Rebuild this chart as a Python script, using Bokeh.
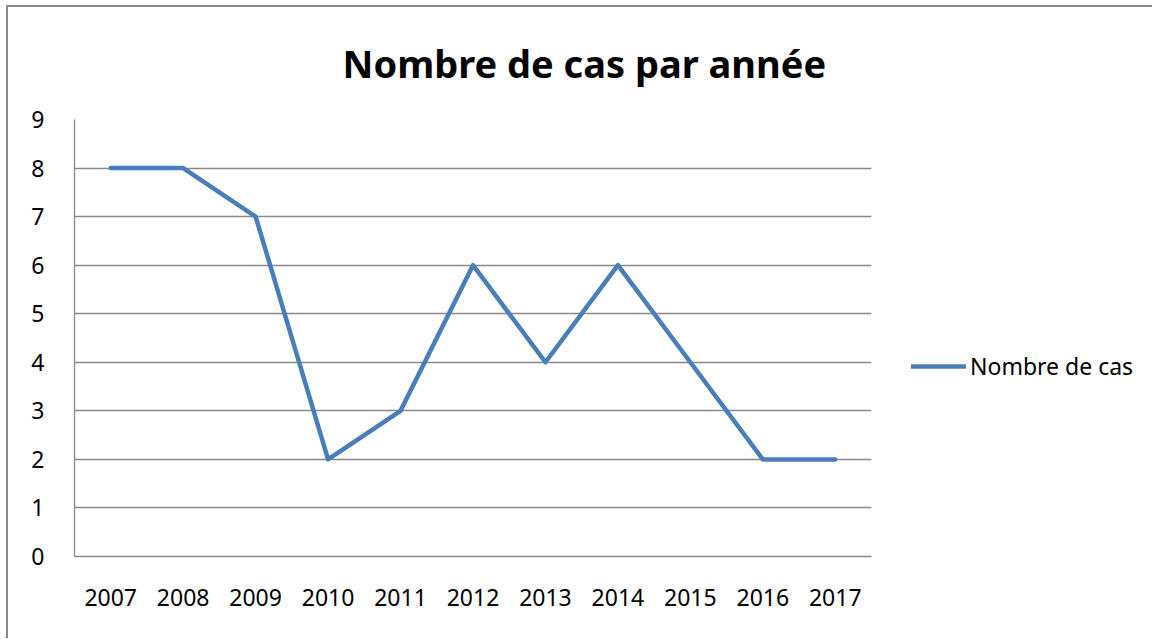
from bokeh.plotting import figure
from bokeh.models import Range1d, FactorRange, Legend, LegendItem, Title, SingleIntervalTicker
from bokeh.embed import file_html
from bokeh.resources import INLINE

title_text = "Nombre de cas par année"
series_name = "Nombre de cas"
years = ["2007", "2008", "2009", "2010", "2011", "2012", "2013", "2014", "2015", "2016", "2017"]
cases = [8, 8, 7, 2, 3, 6, 4, 6, 4, 2, 2]

FONT = "Noto Sans"
GRID = "#898989"

p = figure(
    frame_width=797, frame_height=437,
    x_range=FactorRange(*years, range_padding=0),
    y_range=Range1d(0, 9),
    output_backend="svg", toolbar_location=None,
    min_border_left=66, min_border_right=0, min_border_top=111, min_border_bottom=82,
    styles={"border-left": "2px solid #898989", "border-top": "2px solid #898989",
            "margin-left": "6px", "margin-top": "5px"},
)
p.outline_line_color = None
p.background_fill_color = "white"
p.border_fill_color = "white"

r = p.line(years, cases, line_color="#4A7EBB", line_width=4.5, line_cap="round", line_join="round")

# axes
p.yaxis.ticker = SingleIntervalTicker(interval=1)
for ax in (p.xaxis[0], p.yaxis[0]):
    ax.axis_line_color = GRID
    ax.axis_line_width = 1.3
    ax.major_tick_line_color = None
    ax.minor_tick_line_color = None
    ax.major_label_text_font = FONT
    ax.major_label_text_font_size = "23px"
    ax.major_label_text_color = "black"
p.yaxis.major_label_standoff = 24
p.xaxis.major_label_standoff = 26

p.xgrid.grid_line_color = None
p.ygrid.grid_line_color = GRID
p.ygrid.grid_line_width = 1.3
p.ygrid.grid_line_alpha = 1.0

p.title = Title(text=title_text, align="left", offset=268, vertical_align="top", standoff=58,
                text_font=FONT, text_font_style="bold", text_font_size="38px", text_color="black")

legend = Legend(items=[LegendItem(label=series_name, renderers=[r])],
                location=(40, 174), orientation="vertical",
                glyph_width=55, glyph_height=22, label_standoff=4,
                label_text_font=FONT, label_text_font_size="23px", label_text_color="black",
                padding=0, margin=0, border_line_color=None, background_fill_alpha=0)
p.add_layout(legend, "right")

open("out.html", "w").write(file_html(p, INLINE))
